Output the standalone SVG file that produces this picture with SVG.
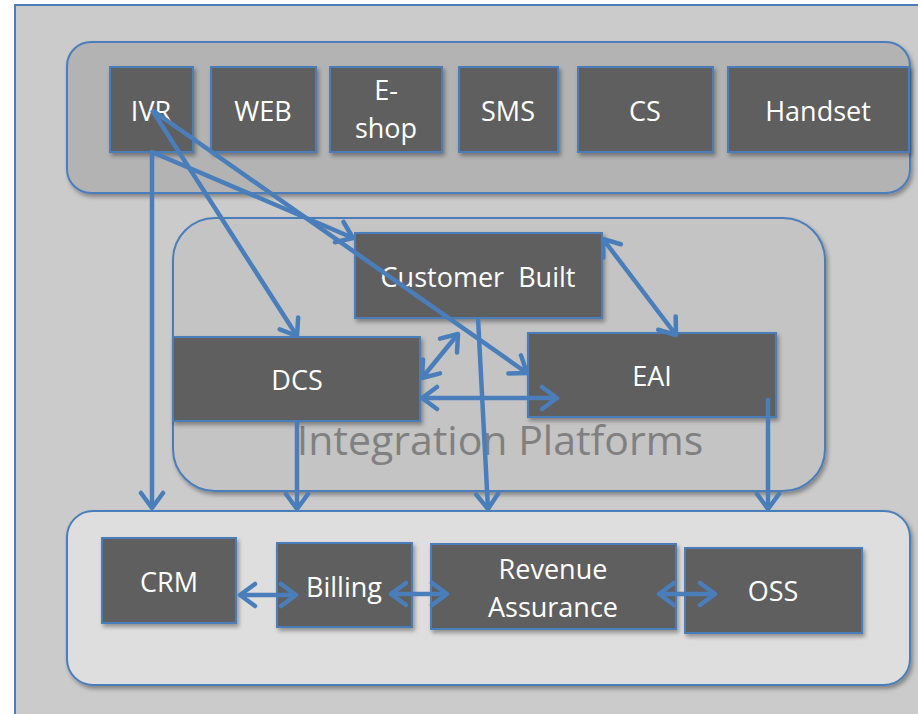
<svg xmlns="http://www.w3.org/2000/svg" width="918" height="714" viewBox="0 0 918 714">
  <defs>
    <filter id="shadow" x="-10%" y="-10%" width="130%" height="130%">
      <feDropShadow dx="2" dy="3" stdDeviation="2" flood-color="#000" flood-opacity="0.35"/>
    </filter>
    <marker id="arrow" viewBox="-20 -14 24 28" markerUnits="userSpaceOnUse" markerWidth="24" markerHeight="28" refX="0" refY="0" orient="auto-start-reverse">
      <path d="M-15,-11 L0,0 L-15,11" fill="none" stroke="#4a7ebb" stroke-width="4.5" stroke-linecap="round" stroke-linejoin="round"/>
    </marker>
    <style>
      .frame { fill: #cbcbcb; stroke: #4a7ebb; stroke-width: 2; }
      .group { stroke: #4a7ebb; stroke-width: 2; filter: url(#shadow); }
      .box { fill: #5f5f5f; stroke: #4a7ebb; stroke-width: 2; filter: url(#shadow); }
      .label { font-family: "Open Sans", "Noto Sans", sans-serif; font-size: 27px; fill: #ffffff; text-anchor: middle; }
      .title { font-family: "Open Sans", "Noto Sans", sans-serif; font-size: 41px; fill: #808080; text-anchor: middle; }
      .conn { fill: none; stroke: #4a7ebb; stroke-width: 4.5; stroke-linecap: butt; stroke-linejoin: round; }
      .one { marker-end: url(#arrow); }
      .two { marker-start: url(#arrow); marker-end: url(#arrow); }
    </style>
  </defs>

  <rect width="918" height="714" fill="#ffffff"/>
  <rect class="frame" x="15" y="5" width="920" height="730"/>

  <!-- channel layer -->
  <g id="channels">
    <rect class="group" x="67" y="42" width="843" height="151" rx="24" fill="#b3b3b3"/>
  </g>
  <!-- integration layer -->
  <g id="integration">
    <rect class="group" x="173" y="218" width="652" height="273" rx="42" fill="#c4c4c4"/>
    <text class="title" x="500" y="455">Integration Platforms</text>
  </g>
  <!-- back-end layer -->
  <g id="backend">
    <rect class="group" x="67" y="511" width="843" height="174" rx="26" fill="#dedede"/>
  </g>

  <g id="ivr"><rect class="box" x="110" y="67" width="83" height="85"/><text class="label" x="151" y="121">IVR</text></g>
  <g id="web"><rect class="box" x="211" y="67" width="105" height="85"/><text class="label" x="263" y="121">WEB</text></g>
  <g id="eshop"><rect class="box" x="330" y="67" width="112" height="85"/><text class="label" x="386" y="100">E-</text><text class="label" x="386" y="138">shop</text></g>
  <g id="sms"><rect class="box" x="459" y="67" width="99" height="85"/><text class="label" x="508" y="121">SMS</text></g>
  <g id="cs"><rect class="box" x="578" y="67" width="135" height="85"/><text class="label" x="645" y="121">CS</text></g>
  <g id="handset"><rect class="box" x="728" y="67" width="181" height="85"/><text class="label" x="818" y="121">Handset</text></g>

  <g id="customer-built"><rect class="box" x="355" y="233" width="247" height="85"/><text class="label" x="478" y="287" xml:space="preserve">Customer  Built</text></g>
  <g id="dcs"><rect class="box" x="173" y="337" width="247" height="84"/><text class="label" x="297" y="390">DCS</text></g>
  <g id="eai"><rect class="box" x="528" y="333" width="248" height="84"/><text class="label" x="652" y="386">EAI</text></g>

  <g id="crm"><rect class="box" x="102" y="538" width="134" height="85"/><text class="label" x="169" y="592">CRM</text></g>
  <g id="billing"><rect class="box" x="277" y="543" width="135" height="84"/><text class="label" x="344" y="597">Billing</text></g>
  <g id="revenue-assurance"><rect class="box" x="431" y="544" width="245" height="85"/><text class="label" x="553" y="579">Revenue</text><text class="label" x="553" y="617">Assurance</text></g>
  <g id="oss"><rect class="box" x="685" y="548" width="177" height="85"/><text class="label" x="773" y="601">OSS</text></g>

  <g id="connectors">
    <!-- IVR fan-out -->
    <path class="conn one" d="M152,110 L297,336"/>
    <path class="conn one" d="M152,110 L527,373"/>
    <path class="conn two" d="M152,508 L152,152 L353,238"/>
    <!-- integration links -->
    <path class="conn two" d="M603,239 L676,335"/>
    <path class="conn two" d="M422,378 L458,334"/>
    <path class="conn two" d="M422,398 L557,398"/>
    <!-- down to back-end -->
    <path class="conn one" d="M297,421 L297,509"/>
    <path class="conn one" d="M478,318 L488,509"/>
    <path class="conn one" d="M768,398 L768,509"/>
    <!-- back-end links -->
    <path class="conn two" d="M240,595 L296,595"/>
    <path class="conn two" d="M391,594 L447,594"/>
    <path class="conn two" d="M659,594 L715,594"/>
  </g>
</svg>
